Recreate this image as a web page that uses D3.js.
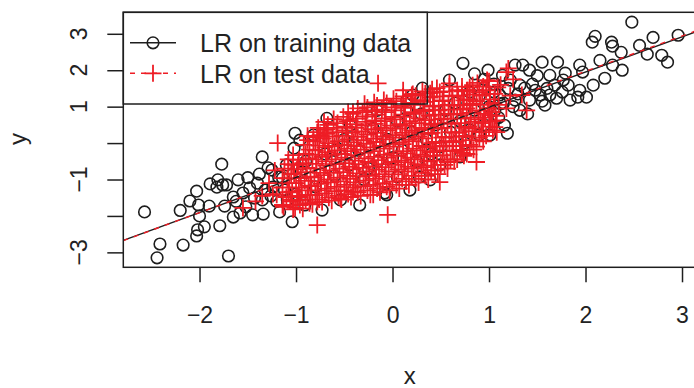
<!DOCTYPE html>
<html>
<head>
<meta charset="utf-8">
<script src="https://cdn.jsdelivr.net/npm/d3@7"></script>
<style>
  body { margin: 0; background: #fff; }
  svg { display: block; }
  text { font-family: "Liberation Sans", Arial, Helvetica, sans-serif; fill: #222; }
</style>
</head>
<body>
<svg id="chart" width="694" height="388"></svg>
<script>
// Training sample (drawn as open circles)
const trainX = [
  -2.57,-2.41,-2.44,-2.17,-2.03,-2.02,-2.00,-2.01,-2.03,-1.90,-1.79,-1.70,-1.77,-1.81,-1.82,-1.76,-1.72,-1.74,-1.65,-1.65,
  -1.58,-1.52,-1.45,-1.34,-1.35,-1.35,-1.55,-1.48,-1.40,-1.26,-1.24,-1.18,-1.12,-1.14,-1.04,-0.73,-1.01,-1.02,-0.96,-0.82,
  -1.25,-1.29,-1.17,-1.09,-1.32,-1.43,-1.60,-1.89,-2.10,-0.91,-0.68,-0.44,-0.16,0.31,0.15,0.21,-0.08,0.05,0.28,0.49,
  0.70,0.80,0.90,1.01,1.16,1.19,-0.06,-0.54,-0.34,0.18,0.39,2.48,2.10,2.07,2.27,2.28,2.37,2.56,2.70,2.96,
  2.79,2.85,2.64,2.38,2.20,2.28,1.94,1.97,2.08,2.01,1.92,1.94,1.82,1.71,1.63,1.55,1.42,1.53,1.58,1.70,
  1.76,1.77,1.79,1.63,1.68,0.73,0.99,1.27,1.35,1.14,1.37,1.32,1.22,0.59,1.11,1.27,1.42,1.32,1.06,1.48,
  1.84,2.15,-0.90,-0.80,-0.70,-0.60,-0.50,-0.45,-0.35,-0.30,-0.20,-0.15,-0.05,0.00,0.05,0.10,0.20,0.25,0.30,0.35,
  0.45,0.50,0.55,0.60,0.65,0.70,0.75,0.85,0.90,0.95,1.00,1.05,1.10,-1.10,-1.00,-0.95,-0.25,0.15,0.40,-0.60,
  0.80,1.15,1.05,1.20,1.45,1.50,1.60,1.25,1.40,1.55,1.12,0.95,0.85,1.30,-2.20,-1.95,-1.62,-1.50,-1.38,-1.20
];
const trainY = [
  -1.89,-2.77,-3.15,-2.80,-2.55,-2.38,-2.00,-1.70,-1.32,-1.73,-2.27,-3.10,-0.58,-1.01,-1.21,-1.15,-1.15,-1.73,-2.03,-1.48,
  -1.92,-1.75,-1.97,-1.95,-0.38,-1.56,-1.37,-1.23,-1.10,-1.45,-1.21,-0.93,-1.29,-0.96,-2.16,-1.84,0.27,-0.14,0.08,0.22,
  -0.74,-0.68,-1.89,-1.56,-1.29,-1.51,-1.01,-1.12,-1.59,-1.70,0.68,0.49,0.90,1.51,1.18,1.32,-1.37,-0.93,-0.93,-0.60,
  -0.38,0.36,0.22,0.22,0.49,0.27,-1.42,-1.56,-1.70,-1.29,-1.01,3.32,2.93,2.77,2.77,2.66,2.49,2.68,2.90,2.96,
  2.41,2.22,2.44,2.00,1.78,2.14,2.14,1.95,1.59,1.26,1.26,1.45,1.59,2.22,1.86,2.22,2.00,1.32,1.04,1.23,
  1.40,1.73,1.92,1.32,1.59,2.19,2.00,2.14,2.14,1.86,1.51,1.59,1.73,1.73,1.32,1.18,1.18,0.90,0.90,1.45,
  1.18,2.27,-0.50,-1.20,-0.30,-0.90,0.10,-0.60,-0.20,-1.00,0.40,-0.50,0.10,-0.40,0.60,-0.20,0.30,-0.50,0.80,0.10,
  0.50,-0.10,0.90,0.30,1.10,0.60,0.00,0.90,1.30,0.50,1.00,1.40,0.70,-0.60,-1.40,-0.80,-0.70,0.90,-0.30,-0.20,
  1.40,1.10,1.62,1.50,1.62,1.85,1.50,1.00,0.80,1.15,1.08,1.75,1.90,1.35,-1.85,-2.30,-1.60,-0.95,-0.85,-1.60
];

// Test sample (drawn as red plus signs)
const testX = [
  -0.15,-1.19,0.87,0.49,-0.05,-0.78,-1.55,-1.01,-1.04,-0.85,1.20,0.83,0.77,0.80,1.08,1.34,1.39,1.06,0.72,0.11,
  0.20,0.39,0.59,0.67,0.46,0.80,0.98,1.09,1.18,-0.26,-0.41,-0.44,-0.75,-0.82,-0.70,-1.03,-1.14,-1.20,-1.14,-0.96,
  -0.78,-0.54,-0.41,-0.20,0.36,0.57,0.70,1.08,0.94,1.01,
  -1.13,-1.10,-1.14,-1.09,-1.12,-1.08,
  -1.03,-0.99,-1.04,-1.00,-1.02,-0.98,-1.03,
  -0.93,-0.90,-0.94,-0.91,-0.89,-0.93,-0.90,-0.92,-0.88,
  -0.83,-0.80,-0.84,-0.81,-0.79,-0.83,-0.80,-0.82,-0.78,
  -0.73,-0.70,-0.74,-0.71,-0.69,-0.73,-0.70,-0.72,-0.68,-0.71,
  -0.63,-0.60,-0.64,-0.61,-0.59,-0.63,-0.60,-0.62,-0.58,-0.61,
  -0.53,-0.50,-0.54,-0.51,-0.49,-0.53,-0.50,-0.52,-0.48,-0.51,
  -0.43,-0.40,-0.44,-0.41,-0.39,-0.43,-0.40,-0.42,-0.38,-0.41,
  -0.33,-0.30,-0.34,-0.31,-0.29,-0.33,-0.30,-0.32,-0.28,-0.31,-0.29,
  -0.23,-0.20,-0.24,-0.21,-0.19,-0.23,-0.20,-0.22,-0.18,-0.21,-0.19,
  -0.13,-0.10,-0.14,-0.11,-0.09,-0.13,-0.10,-0.12,-0.08,-0.11,-0.09,
  -0.03,0.00,-0.04,-0.01,0.01,-0.03,0.00,-0.02,0.02,-0.01,0.01,
  0.07,0.10,0.06,0.09,0.11,0.07,0.10,0.08,0.12,0.09,0.11,
  0.17,0.20,0.16,0.19,0.21,0.17,0.20,0.18,0.22,0.19,0.21,
  0.27,0.30,0.26,0.29,0.31,0.27,0.30,0.28,0.32,0.29,0.31,
  0.37,0.40,0.36,0.39,0.41,0.37,0.40,0.38,0.42,0.39,0.41,
  0.47,0.50,0.46,0.49,0.51,0.47,0.50,0.48,0.52,0.49,
  0.57,0.60,0.56,0.59,0.61,0.57,0.60,0.58,0.62,0.59,
  0.67,0.70,0.66,0.69,0.71,0.67,0.70,0.68,0.72,
  0.77,0.80,0.76,0.79,0.81,0.77,0.80,0.78,
  0.87,0.90,0.86,0.89,0.91,0.87,0.90,0.88,
  0.97,1.00,0.96,0.99,1.01,0.97,1.00,
  1.07,1.10,1.06,1.12,1.18,1.22,1.25,
  -1.24,-1.28,-1.22,-1.35,-1.42,
  -1.06,-1.08,-1.07,-1.05,-1.08,
  -0.96,-0.98,-0.97,-0.95,-0.99,-0.97,
  -0.86,-0.88,-0.87,-0.85,-0.89,-0.87,-0.86,-0.88,
  -0.76,-0.78,-0.77,-0.75,-0.79,-0.77,-0.76,-0.78,-0.77,
  -0.66,-0.68,-0.67,-0.65,-0.69,-0.67,-0.66,-0.68,-0.67,
  -0.56,-0.58,-0.57,-0.55,-0.59,-0.57,-0.56,-0.58,-0.57,
  -0.46,-0.48,-0.47,-0.45,-0.49,-0.47,-0.46,-0.48,-0.47,-0.46,
  -0.36,-0.38,-0.37,-0.35,-0.39,-0.37,-0.36,-0.38,-0.37,-0.36,
  -0.26,-0.28,-0.27,-0.25,-0.29,-0.27,-0.26,-0.28,-0.27,-0.26,
  -0.16,-0.18,-0.17,-0.15,-0.19,-0.17,-0.16,-0.18,-0.17,-0.16,
  -0.06,-0.08,-0.07,-0.05,-0.09,-0.07,-0.06,-0.08,-0.07,-0.06,
  0.04,0.02,0.03,0.05,0.01,0.03,0.04,0.02,0.03,0.04,
  0.14,0.12,0.13,0.15,0.11,0.13,0.14,0.12,0.13,0.14,
  0.24,0.22,0.23,0.25,0.21,0.23,0.24,0.22,0.23,0.24,
  0.34,0.32,0.33,0.35,0.31,0.33,0.34,0.32,0.33,0.34,
  0.44,0.42,0.43,0.45,0.41,0.43,0.44,0.42,0.43,
  0.54,0.52,0.53,0.55,0.51,0.53,0.54,0.52,0.53,
  0.64,0.62,0.63,0.65,0.61,0.63,0.64,0.62,
  0.74,0.72,0.73,0.75,0.71,0.73,0.74,0.72,
  0.84,0.82,0.83,0.85,0.81,0.83,0.84,
  0.94,0.92,0.93,0.95,0.91,0.93,0.94,
  1.04,1.02,1.03,1.05,1.01
];
const testY = [
  1.64,0.00,-0.52,-1.07,-1.97,-2.25,-1.78,-1.78,-1.56,-1.42,2.05,1.59,1.45,1.04,0.62,1.32,0.90,0.44,-0.27,1.45,
  1.32,1.37,1.64,1.45,1.51,1.53,1.73,1.53,1.95,0.90,0.85,0.63,0.22,0.16,0.36,-0.60,-0.96,-1.42,-1.70,-1.48,
  -1.62,-1.51,-1.34,-1.42,-0.66,-0.52,-0.19,0.30,0.58,0.77,
  -1.75,-1.48,-1.22,-0.97,-0.70,-0.45,
  -1.82,-1.58,-1.33,-1.10,-0.84,-0.60,-0.33,
  -1.80,-1.55,-1.30,-1.04,-0.80,-0.55,-0.30,-0.05,0.20,
  -1.68,-1.43,-1.18,-0.94,-0.70,-0.45,-0.20,0.05,0.30,
  -1.62,-1.38,-1.12,-0.88,-0.62,-0.38,-0.12,0.12,0.38,0.58,
  -1.58,-1.32,-1.08,-0.82,-0.58,-0.32,-0.08,0.18,0.42,0.66,
  -1.55,-1.30,-1.05,-0.80,-0.55,-0.30,-0.05,0.20,0.45,0.72,
  -1.48,-1.22,-0.98,-0.72,-0.48,-0.22,0.02,0.28,0.52,0.80,
  -1.45,-1.18,-0.92,-0.68,-0.42,-0.18,0.08,0.32,0.58,0.85,1.08,
  -1.42,-1.15,-0.90,-0.64,-0.38,-0.12,0.12,0.38,0.62,0.88,1.12,
  -1.35,-1.10,-0.85,-0.58,-0.32,-0.08,0.18,0.42,0.68,0.92,1.18,
  -1.30,-1.05,-0.78,-0.52,-0.28,-0.02,0.22,0.48,0.72,0.98,1.22,
  -1.25,-0.98,-0.72,-0.48,-0.22,0.02,0.28,0.52,0.78,1.02,1.28,
  -1.15,-0.90,-0.65,-0.40,-0.15,0.10,0.35,0.60,0.85,1.10,1.35,
  -1.08,-0.82,-0.58,-0.32,-0.08,0.18,0.42,0.68,0.92,1.18,1.42,
  -1.00,-0.75,-0.50,-0.25,0.00,0.25,0.50,0.75,1.00,1.25,1.48,
  -0.85,-0.60,-0.35,-0.10,0.15,0.40,0.65,0.90,1.15,1.40,
  -0.70,-0.45,-0.20,0.05,0.30,0.55,0.80,1.05,1.30,1.55,
  -0.45,-0.20,0.05,0.30,0.55,0.80,1.05,1.30,1.55,
  -0.30,-0.05,0.20,0.45,0.70,0.95,1.20,1.45,
  -0.10,0.15,0.40,0.65,0.90,1.15,1.40,1.65,
  0.20,0.45,0.70,0.95,1.20,1.45,1.70,
  0.75,1.05,1.35,1.60,0.95,1.30,1.75,
  -1.40,-1.10,-0.75,-1.45,-1.60,
  -1.60,-1.35,-1.10,-0.85,-0.58,
  -1.70,-1.45,-1.22,-0.96,-0.72,-0.46,
  -1.65,-1.42,-1.17,-0.92,-0.68,-0.42,-0.18,0.08,
  -1.55,-1.30,-1.05,-0.82,-0.57,-0.32,-0.07,0.18,0.42,
  -1.50,-1.25,-1.00,-0.75,-0.50,-0.25,0.00,0.25,0.50,
  -1.45,-1.20,-0.95,-0.70,-0.45,-0.20,0.05,0.30,0.55,
  -1.40,-1.15,-0.90,-0.65,-0.40,-0.15,0.10,0.35,0.60,0.85,
  -1.35,-1.08,-0.83,-0.58,-0.33,-0.08,0.17,0.42,0.67,0.95,
  -1.30,-1.03,-0.78,-0.52,-0.27,-0.02,0.23,0.48,0.73,0.98,
  -1.25,-0.98,-0.73,-0.47,-0.22,0.03,0.28,0.53,0.78,1.03,
  -1.20,-0.92,-0.66,-0.40,-0.15,0.10,0.35,0.60,0.85,1.10,
  -1.15,-0.86,-0.60,-0.35,-0.10,0.15,0.40,0.65,0.90,1.15,
  -1.05,-0.78,-0.53,-0.28,-0.03,0.22,0.47,0.72,0.97,1.22,
  -0.98,-0.70,-0.45,-0.20,0.05,0.30,0.55,0.80,1.05,1.30,
  -0.90,-0.62,-0.37,-0.12,0.13,0.38,0.63,0.88,1.13,1.36,
  -0.75,-0.48,-0.22,0.03,0.28,0.53,0.78,1.03,1.28,
  -0.60,-0.33,-0.08,0.17,0.42,0.67,0.92,1.17,1.42,
  -0.50,-0.22,0.03,0.28,0.53,0.78,1.03,1.28,
  -0.35,-0.08,0.17,0.42,0.67,0.92,1.17,1.42,
  -0.18,0.08,0.33,0.58,0.83,1.08,1.33,
  0.05,0.30,0.55,0.80,1.05,1.30,1.55,
  0.35,0.60,0.85,1.10,1.35
];

// Least-squares fits: intercept and slope for each sample
const fitLabels = ["LR on training data", "LR on test data"];
const fitIntercepts = [0.02, 0.03];
const fitSlopes = [0.965, 0.97];

// Axis ticks and titles
const xTicks = [-2, -1, 0, 1, 2, 3];
const yTicks = [-3, -2, -1, 0, 1, 2, 3];
const yTickLabels = ["\u22123", "", "\u22121", "", "1", "2", "3"];
const axisTitles = ["x", "y"];

const ink = "#1e1e1e";
const red = "#ee1d25";
const fitColors = [ink, red];
const fitDash = [null, "5,6"];

const svg = d3.select("#chart");
const box = { left: 123.3, right: 696, top: 12.3, bottom: 267.3 };

const x = d3.scaleLinear().domain([-2.79, 3.145]).range([box.left, box.right]);
const y = d3.scaleLinear().domain([-3.41, 3.59]).range([box.bottom, box.top]);

svg.append("defs").append("clipPath").attr("id", "plotClip")
  .append("rect")
  .attr("x", box.left).attr("y", box.top)
  .attr("width", box.right - box.left).attr("height", box.bottom - box.top);

const plotArea = svg.append("g").attr("clip-path", "url(#plotClip)");

// training points
plotArea.append("g").selectAll("circle")
  .data(d3.range(trainX.length))
  .join("circle")
  .attr("cx", i => x(trainX[i]))
  .attr("cy", i => y(trainY[i]))
  .attr("r", 5.8)
  .attr("fill", "none")
  .attr("stroke", ink)
  .attr("stroke-width", 1.6);

// test points
const plus = "M-8.5,0H8.5M0,-8.5V8.5";
plotArea.append("g").selectAll("path")
  .data(d3.range(testX.length))
  .join("path")
  .attr("transform", i => `translate(${x(testX[i])},${y(testY[i])})`)
  .attr("d", plus)
  .attr("fill", "none")
  .attr("stroke", red)
  .attr("stroke-width", 1.8);

// fitted lines
const [x0, x1] = x.domain();
fitLabels.forEach((lab, k) => {
  plotArea.append("line")
    .attr("x1", x(x0)).attr("y1", y(fitIntercepts[k] + fitSlopes[k] * x0))
    .attr("x2", x(x1)).attr("y2", y(fitIntercepts[k] + fitSlopes[k] * x1))
    .attr("stroke", fitColors[k])
    .attr("stroke-width", 1.4)
    .attr("stroke-dasharray", fitDash[k]);
});

// frame
svg.append("rect")
  .attr("x", box.left).attr("y", box.top)
  .attr("width", box.right - box.left).attr("height", box.bottom - box.top)
  .attr("fill", "none").attr("stroke", ink).attr("stroke-width", 1.5);

// bottom axis
const xAxis = svg.append("g")
  .attr("transform", `translate(0,${box.bottom})`)
  .call(d3.axisBottom(x).tickValues(xTicks).tickSize(15).tickPadding(24.5)
    .tickFormat(d => d < 0 ? "\u2212" + Math.abs(d) : String(d)));
xAxis.select(".domain").remove();
xAxis.selectAll("line").attr("stroke", ink).attr("stroke-width", 1.5);
xAxis.selectAll("text").attr("font-size", 23).attr("fill", ink)
  .attr("font-family", "Liberation Sans, Arial, sans-serif");

// left axis: ticks, then rotated labels
const yAxis = svg.append("g")
  .attr("transform", `translate(${box.left},0)`)
  .call(d3.axisLeft(y).tickValues(yTicks).tickSize(16).tickFormat(""));
yAxis.select(".domain").remove();
yAxis.selectAll("line").attr("stroke", ink).attr("stroke-width", 1.5);

svg.append("g").selectAll("text")
  .data(yTicks)
  .join("text")
  .attr("transform", (d) => `translate(86.5,${y(d)}) rotate(-90)`)
  .attr("text-anchor", "middle")
  .attr("font-size", 23)
  .text((d, i) => yTickLabels[i]);

// axis titles
svg.append("text")
  .attr("x", (box.left + box.right) / 2)
  .attr("y", 384)
  .attr("text-anchor", "middle")
  .attr("font-size", 24)
  .text(axisTitles[0]);

svg.append("text")
  .attr("transform", `translate(26,139) rotate(-90)`)
  .attr("text-anchor", "middle")
  .attr("font-size", 24)
  .text(axisTitles[1]);

// legend
const legend = svg.append("g");
legend.append("rect")
  .attr("x", box.left).attr("y", box.top)
  .attr("width", 427.3 - box.left).attr("height", 104 - box.top)
  .attr("fill", "none").attr("stroke", ink).attr("stroke-width", 1.5);

const rowY = [42.8, 73.3];
fitLabels.forEach((lab, k) => {
  const g = legend.append("g").attr("transform", `translate(0,${rowY[k]})`);
  g.append("line")
    .attr("x1", 130).attr("x2", 176).attr("y1", 0).attr("y2", 0)
    .attr("stroke", fitColors[k]).attr("stroke-width", 1.4)
    .attr("stroke-dasharray", fitDash[k]);
  if (k === 0) {
    g.append("circle").attr("cx", 153).attr("cy", 0).attr("r", 5.8)
      .attr("fill", "none").attr("stroke", ink).attr("stroke-width", 1.6);
  } else {
    g.append("path").attr("transform", "translate(153,0)").attr("d", plus)
      .attr("fill", "none").attr("stroke", red).attr("stroke-width", 1.8);
  }
  g.append("text")
    .attr("x", 200).attr("y", 9.3)
    .attr("font-size", 25)
    .text(lab);
});
</script>
</body>
</html>
